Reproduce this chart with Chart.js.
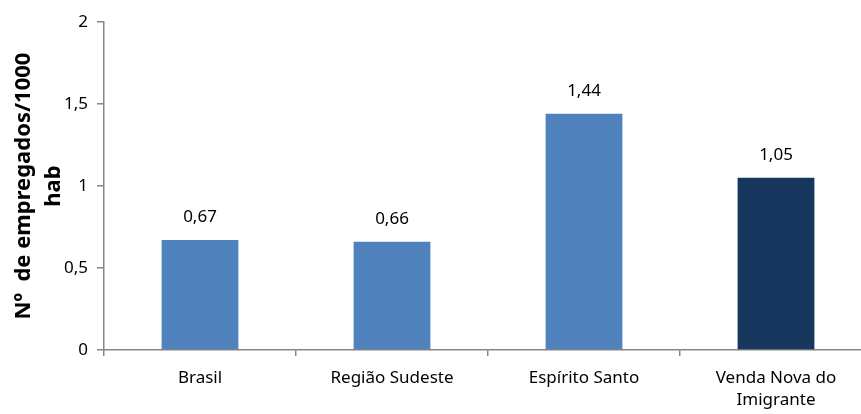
<!DOCTYPE html>
<html>
<head>
<meta charset="utf-8">
<script src="https://cdn.jsdelivr.net/npm/chart.js@4.4.0/dist/chart.umd.min.js"></script>
<style>
  html, body { margin: 0; padding: 0; background: #fff; overflow: hidden; }
  #wrap { position: absolute; left: 0; top: 0; width: 880px; height: 414px; }
</style>
</head>
<body>
<div id="wrap"><canvas id="chart" width="880" height="414"></canvas></div>
<script>
const categories = ['Brasil', 'Região Sudeste', 'Espírito Santo', ['Venda Nova do', 'Imigrante']];
const values = [0.67, 0.66, 1.44, 1.05];
const barColors = ['#4F81BD', '#4F81BD', '#4F81BD', '#17375E'];
const yTicks = [0, 0.5, 1, 1.5, 2];
const yTitle = ['Nº  de empregados/1000', 'hab'];

const fmt = v => String(v).replace('.', ',');
const font = '"Noto Sans", sans-serif';

// value labels above each bar
const valueLabels = {
  id: 'valueLabels',
  afterDatasetsDraw(chart) {
    const ctx = chart.ctx;
    const meta = chart.getDatasetMeta(0);
    ctx.save();
    ctx.font = '17px ' + font;
    ctx.fillStyle = '#000';
    ctx.textAlign = 'center';
    ctx.textBaseline = 'middle';
    meta.data.forEach((bar, i) => {
      ctx.fillText(fmt(values[i].toFixed(2)), bar.x, bar.y - 23);
    });
    ctx.restore();
  }
};

new Chart(document.getElementById('chart'), {
  type: 'bar',
  data: {
    labels: categories,
    datasets: [{
      data: values,
      backgroundColor: barColors,
      barPercentage: 0.4,
      categoryPercentage: 1
    }]
  },
  options: {
    responsive: false,
    animation: false,
    layout: { padding: { top: 22, right: 8, left: 0, bottom: 0 } },
    plugins: { legend: { display: false }, tooltip: { enabled: false } },
    scales: {
      x: {
        grid: { drawOnChartArea: false, drawTicks: true, tickLength: 6, color: '#868686', lineWidth: 1.5 },
        border: { color: '#868686', width: 1.5 },
        ticks: { color: '#000', font: { family: font, size: 17, lineHeight: 1.3 }, padding: 11, maxRotation: 0, autoSkip: false },
        afterFit(s) { s.height = 64; }
      },
      y: {
        min: 0, max: 2,
        afterBuildTicks(s) { s.ticks = yTicks.map(v => ({ value: v })); },
        grid: { drawOnChartArea: false, drawTicks: true, tickLength: 7, color: '#868686', lineWidth: 1.5 },
        border: { color: '#868686', width: 1.5 },
        ticks: { color: '#000', font: { family: font, size: 17 }, padding: 9, callback: v => fmt(v) },
        title: { display: true, text: yTitle, color: '#000', font: { family: font, size: 22, weight: 'bold', lineHeight: 1.4 }, padding: { top: 8, bottom: 0 } },
        afterFit(s) { s.width = 104; }
      }
    }
  },
  plugins: [valueLabels]
});
</script>
</body>
</html>
